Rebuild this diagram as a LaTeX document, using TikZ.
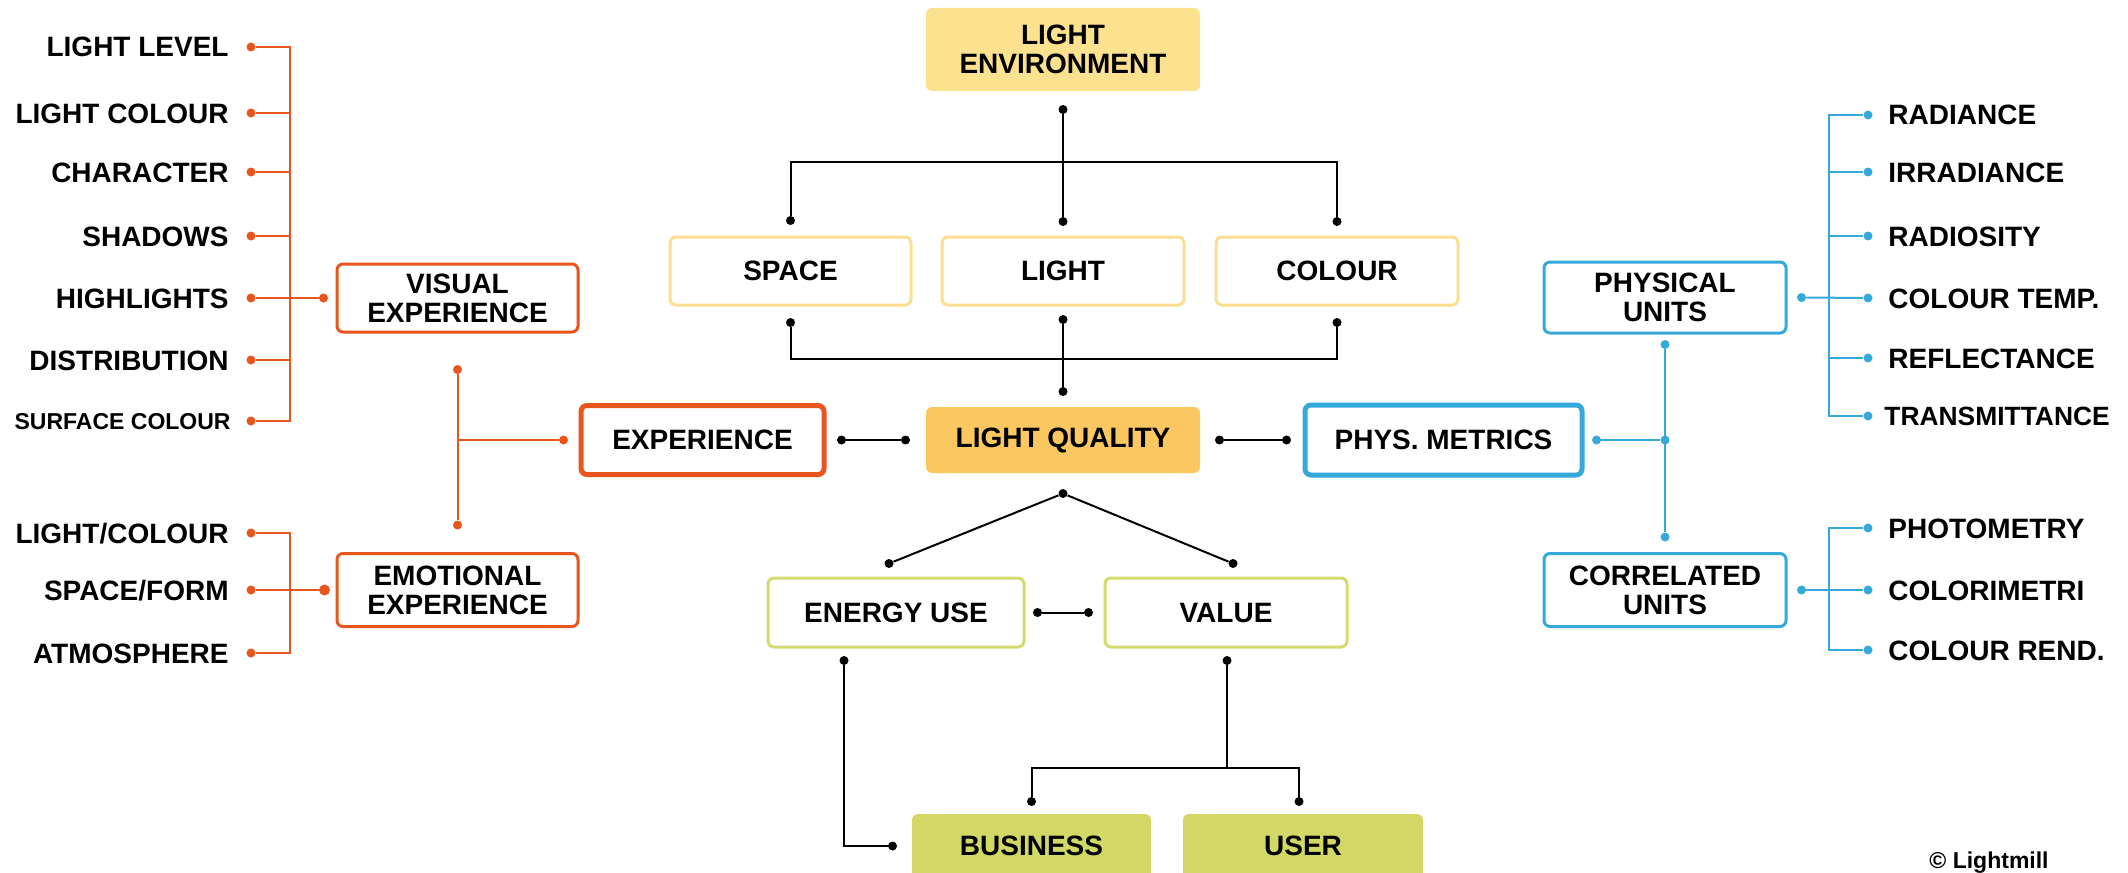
\documentclass[tikz,border=0pt]{standalone}
\usepackage{fontspec}
\setmainfont{Liberation Sans}
\usetikzlibrary{calc}
\definecolor{orng}{HTML}{E8561E}
\definecolor{blu}{HTML}{34A9DA}
\definecolor{ylw}{HTML}{FCDE8E}
\definecolor{lenvc}{HTML}{FCE18F}
\definecolor{lqc}{HTML}{FAC760}
\definecolor{grnl}{HTML}{D5DA6C}
\definecolor{grnf}{HTML}{D3D766}
\tikzset{
  sz/.style n args={2}{minimum width=#1*0.5pt, minimum height=#2*0.5pt},
  box/.style={rounded corners=3pt,line width=1.5pt,font=\fontsize{14}{14.5}\selectfont\bfseries,align=center,inner sep=0pt},
  thick box/.style={box,line width=2.5pt},
  lbl/.style={font=\fontsize{14}{14.5}\selectfont\bfseries,inner sep=0pt,text height=10pt,text depth=0pt},
  smlbl/.style={font=\fontsize{11.5}{12}\selectfont\bfseries,inner sep=0pt,text height=8pt,text depth=0pt},
  midlbl/.style={font=\fontsize{13.2}{13.5}\selectfont\bfseries,inner sep=0pt,text height=9.5pt,text depth=0pt},
  dot/.style={circle,fill=#1,draw=none,inner sep=0pt,minimum size=4.5pt},
  dot/.default=black,
  con/.style={line width=1pt,black},
  ocon/.style={line width=1pt,orng},
  bcon/.style={line width=1pt,blu}
}
\begin{document}
\begin{tikzpicture}[x=0.5pt,y=-0.5pt]
\useasboundingbox (0,0) rectangle (2128,872);
\clip (0,0) rectangle (2128,872);

% ---------- centre boxes ----------
\node[box,sz={274}{83},fill=lenvc] (lenv) at (1063,49.5) {LIGHT\\ENVIRONMENT};
\node[box,sz={241}{68},draw=ylw] (space) at (790.5,271) {SPACE};
\node[box,sz={242}{68},draw=ylw] (light) at (1063,271) {LIGHT};
\node[box,sz={242}{68},draw=ylw] (colour) at (1337,271) {COLOUR};
\node[box,sz={274}{66},fill=lqc] (lq) at (1063,440) {LIGHT QUALITY};
\node[thick box,sz={243}{69},draw=orng] (exp) at (702.5,440) {EXPERIENCE};
\node[thick box,sz={277}{70},draw=blu] (phys) at (1443.5,440) {PHYS. METRICS};
\node[box,sz={256}{69},draw=grnl] (energy) at (896,612.5) {ENERGY USE};
\node[box,sz={242}{69},draw=grnl] (value) at (1226,612.5) {VALUE};
\node[box,sz={239}{90},fill=grnf] (bus) at (1031.5,859) {};
\node[box,sz={240}{90},fill=grnf] (user) at (1303,859) {};
\node[lbl] (bustxt) at (1031.5,845) {BUSINESS};
\node[lbl] (usertxt) at (1303,845) {USER};

% ---------- side boxes ----------
\node[box,sz={241}{68},draw=orng] (vis) at (457.5,298) {VISUAL\\EXPERIENCE};
\node[box,sz={241}{73},draw=orng] (emo) at (457.5,590) {EMOTIONAL\\EXPERIENCE};
\node[box,sz={242}{71},draw=blu] (phu) at (1665,297.5) {PHYSICAL\\UNITS};
\node[box,sz={242}{73},draw=blu] (corr) at (1665,590) {CORRELATED\\UNITS};

% ---------- centre connectors ----------
\node[dot] (d0) at ($(lenv.south)+(0,17)$) {};
\node[dot] (d1) at ($(space.north)+(0,-15)$) {};
\node[dot] (d2) at ($(light.north)+(0,-14)$) {};
\node[dot] (d3) at ($(colour.north)+(0,-14)$) {};
\coordinate (bar1) at (1063,162);
\draw[con] (d1) |- (bar1) -| (d3);
\draw[con] (d0) -- (d2);

\node[dot] (e1) at ($(space.south)+(0,16)$) {};
\node[dot] (e2) at ($(light.south)+(0,13)$) {};
\node[dot] (e3) at ($(colour.south)+(0,16)$) {};
\node[dot] (e4) at ($(lq.north)+(0,-14)$) {};
\coordinate (bar2) at (1063,359);
\draw[con] (e1) |- (bar2) -| (e3);
\draw[con] (e2) -- (e4);

\node[dot] (f1) at ($(exp.east)+(15,0)$) {};
\node[dot] (f2) at ($(lq.west)+(-19,0)$) {};
\draw[con] (f1) -- (f2);
\node[dot] (f3) at ($(lq.east)+(18,0)$) {};
\node[dot] (f4) at ($(phys.west)+(-16,0)$) {};
\draw[con] (f3) -- (f4);

\node[dot] (g0) at ($(lq.south)+(0,19)$) {};
\node[dot] (g1) at ($(energy.north)+(-7,-13)$) {};
\node[dot] (g2) at ($(value.north)+(7,-13)$) {};
\draw[con] (g1) -- (g0) -- (g2);
\node[dot] (g3) at ($(energy.east)+(12,0)$) {};
\node[dot] (g4) at ($(value.west)+(-15,0)$) {};
\draw[con] (g3) -- (g4);
\node[dot] (g5) at ($(energy.south)+(-52,12)$) {};
\node[dot] (g6) at ($(bustxt.center -| bus.west)+(-18,1)$) {};
\draw[con] (g5) |- (g6);
\node[dot] (g7) at ($(value.south)+(1,12)$) {};
\coordinate (bar3) at (1227,768);
\draw[con] (g7) -- (bar3);
\node[dot] (g8) at ($(bus.north)+(0,-11)$) {};
\node[dot] (g9) at ($(user.north)+(-4,-11)$) {};
\draw[con] (g8) |- (bar3) -| (g9);

% ---------- left labels ----------
\node[lbl,anchor=east] (l1) at (229,47) {LIGHT LEVEL};
\node[lbl,anchor=east] (l2) at (229,113) {LIGHT COLOUR};
\node[lbl,anchor=east] (l3) at (229,172) {CHARACTER};
\node[lbl,anchor=east] (l4) at (229,236) {SHADOWS};
\node[lbl,anchor=east] (l5) at (229,298) {HIGHLIGHTS};
\node[lbl,anchor=east] (l6) at (229,360) {DISTRIBUTION};
\node[smlbl,anchor=east] (l7) at (231,421) {SURFACE COLOUR};
\node[lbl,anchor=east] (l8) at (229,533) {LIGHT/COLOUR};
\node[lbl,anchor=east] (l9) at (229,590) {SPACE/FORM};
\node[lbl,anchor=east] (l10) at (229,653) {ATMOSPHERE};
\foreach \i in {1,...,10} {\node[dot=orng] (ld\i) at (251,0 |- l\i.east) {};}
\coordinate (vl) at (290,0);
\draw[ocon] (ld1) -| (vl |- ld7) -- (ld7);
\foreach \i in {2,3,4,6} {\draw[ocon] (ld\i) -- (ld\i -| vl);}
\node[dot=orng] (vd1) at ($(vis.west)+(-12,0)$) {};
\draw[ocon] (ld5) -- (vd1);
\draw[ocon] (ld8) -| (vl |- ld10) -- (ld10);
\node[dot=orng,minimum size=5.5pt] (vd5) at ($(emo.west)+(-11,0)$) {};
\draw[ocon] (ld9) -- (vd5);
\node[dot=orng] (vd2) at ($(vis.south)+(0,36)$) {};
\node[dot=orng] (vd3) at ($(emo.north)+(0,-27)$) {};
\node[dot=orng] (vd4) at ($(exp.west)+(-15,0)$) {};
\draw[ocon] (vd2) -- (vd3);
\draw[ocon] (vd4) -- (vd4 -| vd2);

% ---------- right labels ----------
\node[lbl,anchor=west] (r1) at (1888,115) {RADIANCE};
\node[lbl,anchor=west] (r2) at (1888,172) {IRRADIANCE};
\node[lbl,anchor=west] (r3) at (1888,236) {RADIOSITY};
\node[lbl,anchor=west] (r4) at (1888,298) {COLOUR TEMP.};
\node[lbl,anchor=west] (r5) at (1888,358) {REFLECTANCE};
\node[midlbl,anchor=west] (r6) at (1884,416) {TRANSMITTANCE};
\node[lbl,anchor=west] (r7) at (1888,528) {PHOTOMETRY};
\node[lbl,anchor=west] (r8) at (1888,590) {COLORIMETRI};
\node[lbl,anchor=west] (r9) at (1888,650) {COLOUR REND.};
\foreach \i in {1,...,9} {\node[dot=blu] (rd\i) at (1868,0 |- r\i.west) {};}
\coordinate (vb) at (1829,0);
\draw[bcon] (rd1) -| (vb |- rd6) -- (rd6);
\foreach \i in {2,3,5} {\draw[bcon] (rd\i) -- (rd\i -| vb);}
\draw[bcon] (rd7) -| (vb |- rd9) -- (rd9);
\node[dot=blu] (b5) at ($(phu.east)+(14,0)$) {};
\draw[bcon] (b5) -- (rd4);
\node[dot=blu] (b6) at ($(corr.east)+(14,0)$) {};
\draw[bcon] (b6) -- (rd8);
\node[dot=blu] (b1) at ($(phys.east)+(12,0)$) {};
\node[dot=blu] (b2) at (1665,440) {};
\draw[bcon] (b1) -- (b2);
\node[dot=blu] (b3) at ($(phu.south)+(0,10)$) {};
\node[dot=blu] (b4) at ($(corr.north)+(0,-15)$) {};
\draw[bcon] (b3) -- (b4);

% ---------- credit ----------
\node[smlbl,anchor=east] (credit) at (2049,860) {© Lightmill};
\end{tikzpicture}
\end{document}
